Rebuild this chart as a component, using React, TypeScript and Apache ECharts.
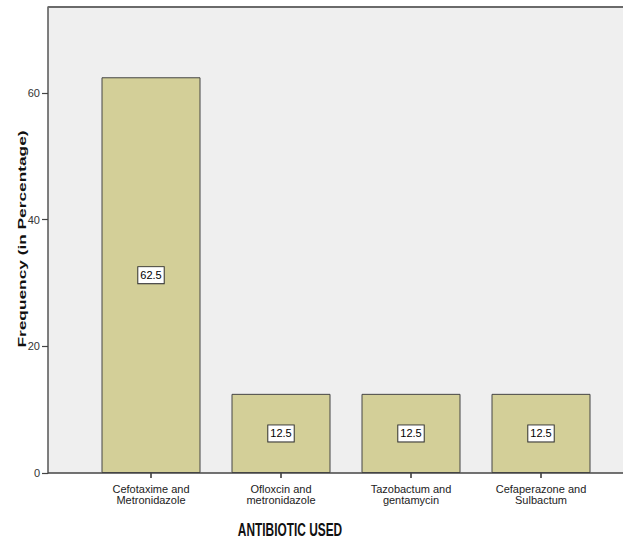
import React, { useEffect, useRef } from "react";
import * as echarts from "echarts";

const categories = ["Cefotaxime and\nMetronidazole", "Ofloxcin and\nmetronidazole", "Tazobactum and\ngentamycin", "Cefaperazone and\nSulbactum"];
const values = [62.5, 12.5, 12.5, 12.5];
const yTicks = [0, 20, 40, 60];
const xTitle = "ANTIBIOTIC USED";
const yTitle = "Frequency (in Percentage)";

export default function App() {
  const ref = useRef<HTMLDivElement>(null);
  useEffect(() => {
    if (!ref.current) return;
    const chart = echarts.init(ref.current, null, { renderer: "svg" });
    const font = "'Liberation Sans', Arial, sans-serif";
    chart.setOption({
      animation: false,
      backgroundColor: "#ffffff",
      grid: { left: 86, right: 17, top: 7, bottom: 67, containLabel: false },
      graphic: [
        { type: "rect", z: -10, silent: true, shape: { x: 48, y: 7, width: 620, height: 466 }, style: { fill: "#efefef" } },
        { type: "line", z: 50, silent: true, shape: { x1: 48, y1: 7, x2: 623, y2: 7 }, style: { stroke: "#6a6a6a", lineWidth: 2 } },
        { type: "line", z: 50, silent: true, shape: { x1: 48, y1: 473, x2: 623, y2: 473 }, style: { stroke: "#444", lineWidth: 1.5 } },
        {
          type: "text", x: 290, y: 530, scaleX: 0.66,
          style: { text: xTitle, fontSize: 18, fontWeight: "bold", fontFamily: font, fill: "#111", align: "center", verticalAlign: "middle" },
        },
        {
          type: "text", x: 22, y: 239, rotation: Math.PI / 2, scaleY: 0.65,
          style: { text: yTitle, fontSize: 17.3, fontWeight: "bold", fontFamily: font, fill: "#111", align: "center", verticalAlign: "middle" },
        },
      ],
      xAxis: {
        type: "category",
        data: categories,
        axisLine: { show: false },
        axisTick: { show: true, alignWithLabel: true, length: 5, lineStyle: { color: "#333", width: 1.5 } },
        axisLabel: { fontSize: 11, lineHeight: 11, color: "#222", margin: 10, fontFamily: font, interval: 0 },
      },
      yAxis: {
        type: "value",
        min: 0,
        max: 73.6,
        interval: 20,
        offset: 38,
        splitLine: { show: false },
        axisLine: { show: true, lineStyle: { color: "#555", width: 1.5 } },
        axisTick: { show: true, length: 6, lineStyle: { color: "#444", width: 1.2 } },
        axisLabel: {
          fontSize: 11, color: "#333", margin: 8, fontFamily: font, showMaxLabel: false,
          formatter: (v: number) => (yTicks.includes(v) ? String(v) : ""),
        },
      },
      series: [
        {
          type: "bar",
          data: values,
          barWidth: 99,
          itemStyle: { color: "#d3cf98", borderColor: "#454545", borderWidth: 1 },
          label: {
            show: true,
            position: "inside",
            formatter: (p: any) => String(p.value),
            fontSize: 11,
            fontFamily: font,
            color: "#000",
            backgroundColor: "#ffffff",
            borderColor: "#333",
            borderWidth: 1,
            padding: [3, 2, 2, 2],
          },
        },
      ],
    });
    return () => chart.dispose();
  }, []);
  return <div ref={ref} style={{ width: 623, height: 540, position: "absolute", left: 0, top: 0 }} />;
}
